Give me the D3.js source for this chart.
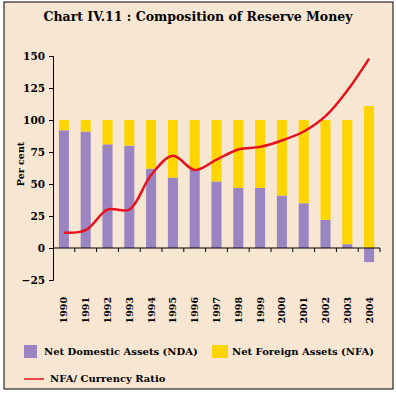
<!DOCTYPE html>
<html>
<head>
<meta charset="utf-8">
<script src="https://cdn.jsdelivr.net/npm/d3@7"></script>
<style>
  body { margin: 0; background: #fff; }
  svg text { font-family: "DejaVu Serif", serif; font-weight: bold; fill: #000; }
</style>
</head>
<body>
<svg id="chart" width="396" height="393"></svg>
<script>
// data
var years = ["1990", "1991", "1992", "1993", "1994", "1995", "1996", "1997",
             "1998", "1999", "2000", "2001", "2002", "2003", "2004"];
var nda = [92, 91, 81, 80, 62, 55, 61, 52, 47, 47, 41, 35, 22, 3, -11];
var nfa = [8, 9, 19, 20, 38, 45, 39, 48, 53, 53, 59, 65, 78, 97, 111];
var ratio = [12, 14, 30, 30, 57, 72, 61, 69, 77, 79, 84, 91, 103, 123, 148];
var yTicks = [-25, 0, 25, 50, 75, 100, 125, 150];

var svg = d3.select("#chart");

svg.append("rect")
    .attr("x", 4).attr("y", 2)
    .attr("width", 389).attr("height", 387)
    .attr("fill", "#F7E6D2")
    .attr("stroke", "#000").attr("stroke-width", 1);

svg.append("text")
    .attr("x", 198).attr("y", 21)
    .attr("text-anchor", "middle")
    .style("font-size", "12.5px")
    .text("Chart IV.11 : Composition of Reserve Money");

var x = d3.scaleBand().domain(years).range([53, 380]).paddingInner(0.54).paddingOuter(0.27);
var y = d3.scaleLinear().domain([-25, 150]).range([280, 56]);

// bars
var g = svg.append("g");
g.selectAll("rect.nda")
    .data(years).enter()
    .append("rect")
    .attr("class", "nda")
    .attr("x", function (d) { return x(d); })
    .attr("width", x.bandwidth())
    .attr("y", function (d, i) { return y(Math.max(0, nda[i])); })
    .attr("height", function (d, i) { return Math.abs(y(nda[i]) - y(0)); })
    .attr("fill", "#9A84C2");

g.selectAll("rect.nfa")
    .data(years).enter()
    .append("rect")
    .attr("class", "nfa")
    .attr("x", function (d) { return x(d); })
    .attr("width", x.bandwidth())
    .attr("y", function (d, i) {
        var base = nda[i] > 0 ? nda[i] : 0;
        return y(base + nfa[i]);
    })
    .attr("height", function (d, i) { return y(0) - y(nfa[i]); })
    .attr("fill", "#FFD500");

// y axis
var yAxis = svg.append("g")
    .attr("transform", "translate(53,0)")
    .call(d3.axisLeft(y).tickValues(yTicks).tickSize(4).tickPadding(4));
yAxis.selectAll("text").style("font-size", "10.5px");
yAxis.select(".domain").attr("stroke", "#000");

// x axis at zero
var step = x.step();
var boundaries = years.map(function (d) { return x(d) + x.bandwidth() / 2 + step / 2; });
var xg = svg.append("g");
xg.append("line")
    .attr("x1", 53).attr("x2", 380)
    .attr("y1", y(0)).attr("y2", y(0))
    .attr("stroke", "#000");
xg.selectAll("line.tick")
    .data(boundaries).enter()
    .append("line")
    .attr("x1", function (d) { return d; })
    .attr("x2", function (d) { return d; })
    .attr("y1", y(0)).attr("y2", y(0) + 4)
    .attr("stroke", "#000");

svg.append("g").selectAll("text")
    .data(years).enter()
    .append("text")
    .attr("transform", function (d) {
        return "translate(" + (x(d) + x.bandwidth() / 2 + 3.5) + ",297) rotate(-90)";
    })
    .attr("text-anchor", "end")
    .style("font-size", "9.5px")
    .text(function (d) { return d; });

svg.append("text")
    .attr("transform", "translate(24,164) rotate(-90)")
    .attr("text-anchor", "middle")
    .style("font-size", "9.5px")
    .text("Per cent");

// ratio line
var line = d3.line()
    .x(function (d, i) { return x(years[i]) + x.bandwidth() / 2; })
    .y(function (d) { return y(d); })
    .curve(d3.curveCatmullRom.alpha(0.5));

svg.append("path")
    .datum(ratio)
    .attr("d", line)
    .attr("fill", "none")
    .attr("stroke", "#E8101C")
    .attr("stroke-width", 2.5);

// legend
var legend = svg.append("g");
legend.append("rect").attr("x", 24).attr("y", 345).attr("width", 13).attr("height", 13).attr("fill", "#9A84C2");
legend.append("text").attr("x", 44).attr("y", 355).style("font-size", "10px").text("Net Domestic Assets (NDA)");
legend.append("rect").attr("x", 212).attr("y", 345).attr("width", 16).attr("height", 13).attr("fill", "#FFD500");
legend.append("text").attr("x", 232).attr("y", 355).style("font-size", "10px").text("Net Foreign Assets (NFA)");
legend.append("line").attr("x1", 24).attr("x2", 44).attr("y1", 379).attr("y2", 379)
    .attr("stroke", "#E8101C").attr("stroke-width", 1.5);
legend.append("text").attr("x", 50).attr("y", 382).style("font-size", "10px").text("NFA/ Currency Ratio");
</script>
</body>
</html>
